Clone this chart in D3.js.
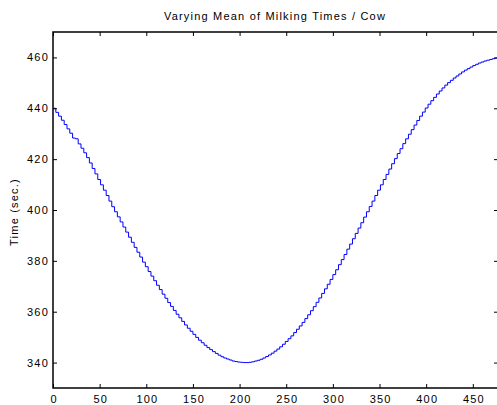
<!DOCTYPE html>
<html>
<head>
<meta charset="utf-8">
<script src="https://cdn.jsdelivr.net/npm/d3@7"></script>
<style>
    body { margin: 0; background: #fff; }
    svg { display: block; }
    text { font-family: Arial, "Liberation Sans", sans-serif; fill: #000; }
    .tick text { font-size: 11px; letter-spacing: 1.2px; }
    .tick line { stroke: #000; }
    .frame { fill: none; stroke: #000; stroke-width: 1.5; }
    .milk-line { fill: none; stroke: #0000ff; stroke-width: 1; }
</style>
</head>
<body>
<div id="chart"></div>
<script>
// milking time chart

// one value per 3 cows, mean milking time (sec.)
const STEP = 3;
const meanTimes = [
    440.0, 438.4, 436.9, 435.3, 433.6, 431.9, 430.2, 428.3, 428.0, 426.0,
    424.3, 422.5, 420.6, 418.5, 416.3, 414.2, 412.0, 409.9, 407.8, 405.7,
    403.5, 401.3, 399.3, 397.3, 395.3, 393.3, 391.3, 389.3, 387.3, 385.3,
    383.4, 381.5, 379.5, 377.7, 375.8, 374.0, 372.2, 370.4, 368.7, 366.9,
    365.3, 363.6, 362.1, 360.5, 359.0, 357.6, 356.2, 354.8, 353.5, 352.3,
    351.1, 349.9, 348.8, 347.8, 346.8, 345.9, 345.1, 344.3, 343.6, 342.9,
    342.3, 341.8, 341.4, 341.0, 340.6, 340.4, 340.2, 340.1, 340.0,
    340.0, 340.1, 340.3, 340.6, 340.9, 341.3, 341.8, 342.4, 343.0, 343.7,
    344.5, 345.3, 346.2, 347.2, 348.3, 349.4, 350.5, 351.8, 353.1, 354.4,
    355.8, 357.3, 358.8, 360.4, 362.0, 363.7, 365.4, 367.2, 369.0, 370.8,
    372.7, 374.6, 376.5, 378.5, 380.5, 382.5, 384.6, 386.6, 388.7, 390.8,
    392.9, 395.0, 397.2, 399.3, 401.4, 403.5, 405.7, 407.8, 409.9, 412.0,
    414.0, 416.1, 418.2, 420.2, 422.2, 424.1, 426.1, 428.0, 429.8, 431.6,
    433.4, 435.2, 436.9, 438.5, 440.1, 441.6, 443.0, 444.3, 445.6, 446.8,
    448.0, 449.1, 450.1, 451.0, 451.9, 452.7, 453.5, 454.3, 455.0, 455.6,
    456.2, 456.8, 457.3, 457.8, 458.2, 458.6, 458.9, 459.2, 459.5, 459.7,
    459.9
];

const xTicks = [0, 50, 100, 150, 200, 250, 300, 350, 400, 450];
const yTicks = [340, 360, 380, 400, 420, 440, 460];
const xDomain = [0, 477];
const yDomain = [330, 470];

(function () {
    'use strict';

    const width = 497;
    const height = 405;
    const margin = { top: 32, right: 0, bottom: 17, left: 53 };

    const svg = d3.select('#chart').append('svg')
        .attr('width', width).attr('height', height);

    const x = d3.scaleLinear().domain(xDomain).range([margin.left, 498]);
    const y = d3.scaleLinear().domain(yDomain).range([height - margin.bottom, margin.top]);

    // title
    svg.append('text')
        .attr('x', 275).attr('y', 20)
        .attr('text-anchor', 'middle')
        .style('font-size', '11px').style('letter-spacing', '1.2px')
        .text('Varying Mean of Milking Times / Cow');

    // y label
    svg.append('text')
        .attr('transform', 'translate(18,212) rotate(-90)')
        .attr('text-anchor', 'middle')
        .style('font-size', '11px').style('letter-spacing', '1.2px')
        .text('Time (sec.)');

    // the staircase line
    svg.append('clipPath').attr('id', 'plot-clip')
        .append('rect')
        .attr('x', x(xDomain[0])).attr('y', y(yDomain[1]))
        .attr('width', x(xDomain[1]) - x(xDomain[0]))
        .attr('height', y(yDomain[0]) - y(yDomain[1]));

    const line = d3.line()
        .x(function (d, i) { return x(i * STEP); })
        .y(function (d) { return y(d); })
        .curve(d3.curveStepAfter);

    svg.append('path').datum(meanTimes)
        .attr('class', 'milk-line')
        .attr('clip-path', 'url(#plot-clip)')
        .attr('d', line);

    // axes, ticks pointing inward on all four sides
    const bottom = svg.append('g').attr('transform', 'translate(0,' + y(yDomain[0]) + ')')
        .call(d3.axisBottom(x).tickValues(xTicks).tickSize(-4).tickPadding(7));
    const left = svg.append('g').attr('transform', 'translate(' + x(xDomain[0]) + ',0)')
        .call(d3.axisLeft(y).tickValues(yTicks).tickSize(-4).tickPadding(4));
    const top = svg.append('g').attr('transform', 'translate(0,' + y(yDomain[1]) + ')')
        .call(d3.axisTop(x).tickValues(xTicks).tickSize(-4).tickFormat(''));
    const right = svg.append('g').attr('transform', 'translate(' + x(xDomain[1]) + ',0)')
        .call(d3.axisRight(y).tickValues(yTicks).tickSize(-4).tickFormat(''));

    [bottom, left, top, right].forEach(function (g) {
        g.select('.domain').remove();
        g.selectAll('text').attr('font-family', null).attr('font-size', null);
    });
    bottom.selectAll('text').attr('dx', '0.6px');

    svg.append('rect').attr('class', 'frame')
        .attr('x', x(xDomain[0])).attr('y', y(yDomain[1]))
        .attr('width', x(xDomain[1]) - x(xDomain[0]))
        .attr('height', y(yDomain[0]) - y(yDomain[1]));
}());
</script>
</body>
</html>
